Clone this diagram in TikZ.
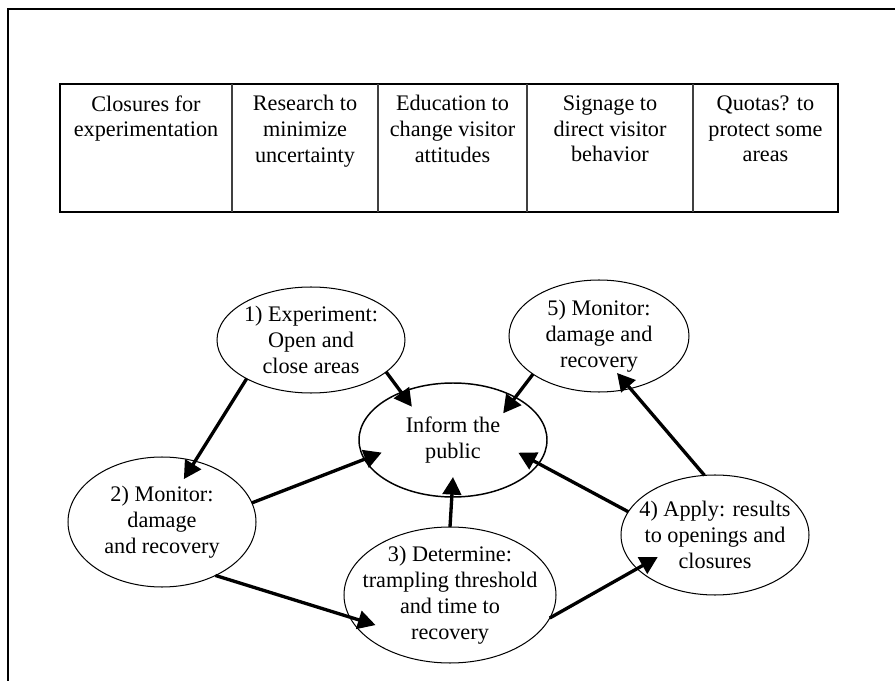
\documentclass[tikz,border=0pt]{standalone}
\usepackage{fontspec}
\setmainfont{Liberation Serif}
\usepackage{tikz}
\usetikzlibrary{shapes.geometric}
\usetikzlibrary{arrows.meta}
\usetikzlibrary{calc}
\def\u{0.54pt}
\tikzset{
  stage/.style={draw, ellipse, inner sep=0pt, outer sep=0pt, line width=0.55pt},
  txt/.style={align=center, inner sep=0pt, font=\fontsize{12}{14}\selectfont},
  arr/.style={line width=1.8pt, -{Triangle[length=9.5pt,width=10pt]}}
}

\begin{document}
\begin{tikzpicture}[x=\u, y=-\u]
\useasboundingbox (0,0) rectangle (895,681);
\draw[line width=2*\u] (7.5,681) |- (895,9);
\draw[line width=1.6pt] (60,84) rectangle (838,212);
\foreach \xx in {232,378,527,693} \draw[line width=0.6pt, black!75] (\xx,84) -- (\xx,212);
\node[txt, anchor=north] (c1) at (146,95) {Closures for\\experimentation};
\node[txt, anchor=north] (c2) at (305,95) {Research to\\minimize\\uncertainty};
\node[txt, anchor=north] (c3) at (452.5,95) {Education to\\change visitor\\attitudes};
\node[txt, anchor=north] (c4) at (610,95) {Signage to\\direct visitor\\behavior};
\node[txt, anchor=north] (c5) at (765.5,95) {Quotas? to\\protect some\\areas};

\node[stage, minimum width=188*\u, minimum height=106*\u] (e1) at (311,340) {};
\node[stage, minimum width=188*\u, minimum height=130*\u] (e2) at (162,522) {};
\node[stage, minimum width=212*\u, minimum height=136*\u] (e3) at (450,595) {};
\node[stage, minimum width=188*\u, minimum height=120*\u] (e4) at (715,535) {};
\node[stage, minimum width=180*\u, minimum height=112*\u] (e5) at (599,336) {};
\node[stage, line width=0.8pt, minimum width=188*\u, minimum height=114*\u] (inf) at (453,440) {};

\node[txt] (t1) at (e1) {1) Experiment:\\Open and\\close areas};
\node[txt] (t2) at (e2) {2) Monitor:\\damage\\and recovery};
\node[txt] (t3) at (e3) {3) Determine:\\trampling threshold\\and time to\\recovery};
\node[txt] (t4) at (e4) {4) Apply: results\\to openings and\\closures};
\node[txt] (t5) at (e5) {5) Monitor:\\damage and\\recovery};
\node[txt] (ti) at (inf) {Inform the\\public};

\draw[arr] (e1.211) -- ($(e2.center)!0.7!(e2.63)$);
\draw[arr] (e1.337) -- ($(inf.center)!0.73!(inf.141)$);
\draw[arr] (e5.210) -- ($(inf.center)!0.71!(inf.28)$);
\draw[arr] (e2.12) -- ($(inf.center)!0.79!(inf.190)$);
\draw[arr] (e3.90) -- ($(inf.center)!0.65!(inf.270)$);
\draw[arr] (e4.165) -- ($(inf.center)!0.73!(inf.349)$);
\draw[arr] (e4.100) -- ($(e5.center)!0.69!(e5.296)$);
\draw[arr] (e2.315) -- ($(e3.center)!0.83!(e3.202)$);
\draw[arr] (e3.347) -- ($(e4.center)!0.71!(e4.201)$);
\end{tikzpicture}
\end{document}
